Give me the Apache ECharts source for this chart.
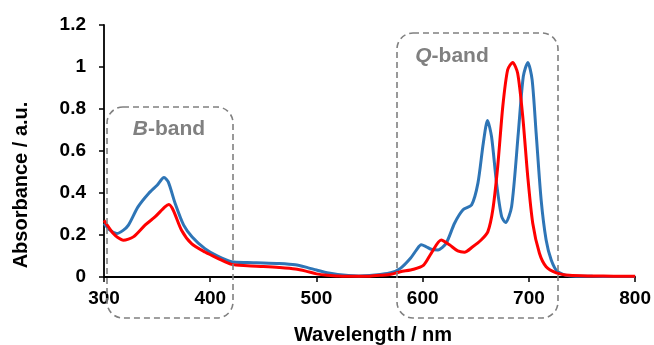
<!DOCTYPE html>
<html><head><meta charset="utf-8">
<script src="https://cdn.jsdelivr.net/npm/echarts@6/dist/echarts.min.js"></script>
<style>html,body{margin:0;padding:0;background:#fff}#c{width:654px;height:345px}</style>
</head><body><div id="c"></div>
<script>
const blueX = [300,306,312,318,323,332,342,350,356.5,360.5,367,375,383,395,407,420,435,450,465,480,490,500,510,520,530,540,550,560,570,579,588.5,594,598.6,603,608,614.5,622,630,638,646,652,657,661,664.8,669.5,674.3,678,683.7,690,694.7,699,703,706.8,711.5,716.2,721,727,738,760,780,800];
const blueY = [0.255,0.222,0.207,0.222,0.247,0.334,0.398,0.437,0.474,0.453,0.35,0.247,0.191,0.135,0.099,0.073,0.069,0.067,0.064,0.058,0.047,0.033,0.02,0.012,0.007,0.005,0.007,0.012,0.02,0.041,0.089,0.128,0.153,0.145,0.132,0.129,0.16,0.256,0.32,0.343,0.447,0.636,0.745,0.669,0.447,0.288,0.259,0.335,0.685,0.955,1.022,0.94,0.685,0.367,0.176,0.081,0.025,0.006,0.003,0.002,0.002];
const redX = [300,304,308.8,313,318.2,327.6,338.6,348,357.4,361.1,365.2,373,382.4,395,407.5,420,435,450,465,480,490,500,510,520,530,540,550,560,570,579,591.5,600.9,608,617.4,625.2,633,639.3,647.1,655,661.3,666,670.6,675.4,680,684.7,689.4,694.2,698.9,703.6,709.9,716.2,725.7,738,760,780,800];
const redY = [0.27,0.24,0.207,0.188,0.175,0.191,0.247,0.286,0.334,0.345,0.318,0.223,0.159,0.119,0.088,0.06,0.054,0.05,0.045,0.038,0.028,0.015,0.008,0.005,0.003,0.003,0.004,0.008,0.013,0.025,0.037,0.057,0.113,0.176,0.153,0.124,0.118,0.144,0.176,0.215,0.32,0.525,0.812,0.987,1.022,0.97,0.763,0.478,0.256,0.113,0.049,0.02,0.008,0.005,0.004,0.004];
const xTicks = [300,400,500,600,700,800];
const yTicks = [0,0.2,0.4,0.6,0.8,1,1.2];

const pair = (xs, ys) => xs.map((x,i)=>[x, ys[i]]);
const chart = echarts.init(document.getElementById('c'), null, {renderer:'canvas'});
const font = 'Arial, "Liberation Sans", sans-serif';
const dash = {stroke:'#808080', lineWidth:1.6, lineDash:[6,4], fill:null};
const bandRich = {
  i:{fontStyle:'italic', fontWeight:'bold', fontSize:21, fill:'#808080', fontFamily:font},
  n:{fontWeight:'bold', fontSize:21, fill:'#808080', fontFamily:font}
};
chart.setOption({
  animation:false,
  grid:{left:104, right:18, top:25, bottom:68},
  xAxis:{type:'value', min:xTicks[0], max:xTicks[xTicks.length-1], interval:100,
    axisLine:{onZero:false, lineStyle:{color:'#000', width:1.8}},
    axisTick:{show:true, length:5, lineStyle:{color:'#000', width:1.5}},
    axisLabel:{color:'#000', fontWeight:'bold', fontSize:19, fontFamily:font, margin:12},
    splitLine:{show:false}},
  yAxis:{type:'value', min:yTicks[0], max:yTicks[yTicks.length-1], interval:0.2,
    axisLine:{show:true, lineStyle:{color:'#000', width:1.8}},
    axisTick:{show:true, length:5, lineStyle:{color:'#000', width:1.5}},
    axisLabel:{color:'#000', fontWeight:'bold', fontSize:19, fontFamily:font, margin:18},
    splitLine:{show:false}},
  series:[
    {type:'line', data:pair(blueX, blueY), smooth:0.25, showSymbol:false, lineStyle:{color:'#2E75B6', width:3}, z:2},
    {type:'line', data:pair(redX, redY), smooth:0.25, showSymbol:false, lineStyle:{color:'#FF0000', width:3}, z:3}
  ],
  graphic:[
    {type:'rect', shape:{x:107, y:107, width:126, height:211, r:16}, style:dash, z:10},
    {type:'rect', shape:{x:397, y:33, width:161, height:285, r:16}, style:dash, z:10},
    {type:'text', x:169, y:129, style:{text:'{i|B}{n|-band}', align:'center', verticalAlign:'middle', rich:bandRich}, z:11},
    {type:'text', x:452, y:56, style:{text:'{i|Q}{n|-band}', align:'center', verticalAlign:'middle', rich:bandRich}, z:11},
    {type:'text', x:21, y:185, rotation:Math.PI/2, style:{text:'Absorbance / a.u.', align:'center', verticalAlign:'middle',
      fontWeight:'bold', fontSize:20, fill:'#000', fontFamily:font}},
    {type:'text', x:373, y:335, style:{text:'Wavelength / nm', align:'center', verticalAlign:'middle',
      fontWeight:'bold', fontSize:20, fill:'#000', fontFamily:font}}
  ]
});
</script></body></html>
